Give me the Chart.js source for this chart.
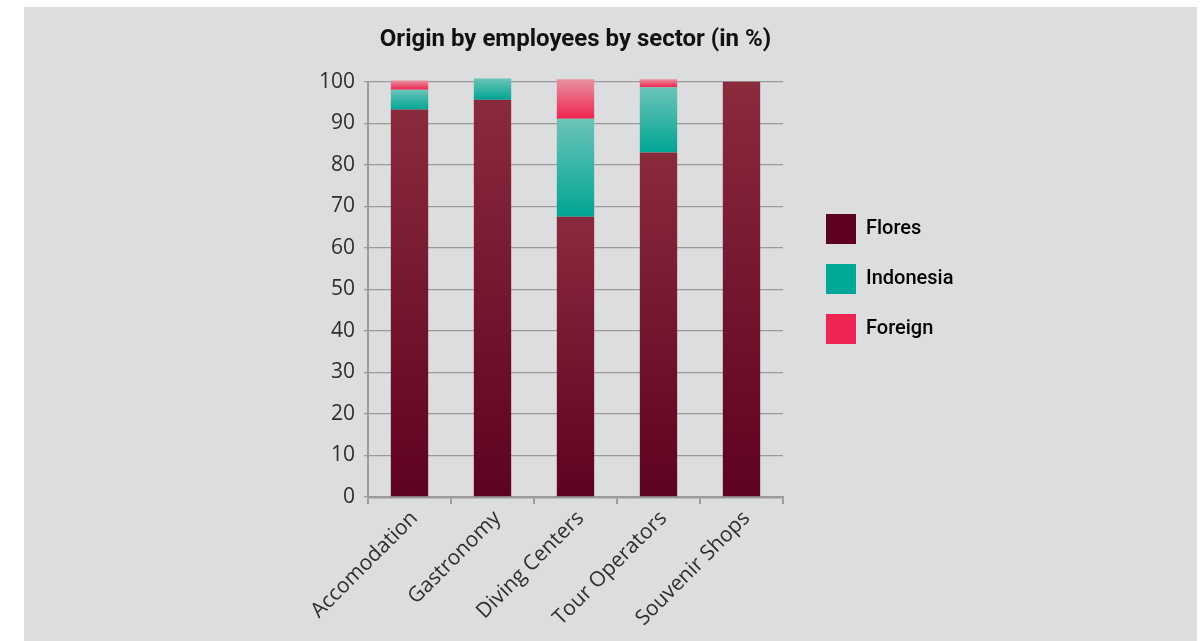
<!DOCTYPE html>
<html>
<head>
<meta charset="utf-8">
<title>Origin by employees by sector</title>
<script src="https://cdn.jsdelivr.net/npm/chart.js@4.4.1/dist/chart.umd.min.js"></script>
<style>
  html, body { margin: 0; padding: 0; background: #fff; }
  .panel { position: absolute; left: 24px; top: 7px; width: 1173px; height: 634px; background: #dcdddf; }
  .panel canvas { display: block; }
</style>
</head>
<body>
<div class="panel"><canvas id="chart-origin"></canvas></div>
<script>
// employees by origin, share per sector (%)
const sectors = ['Accomodation', 'Gastronomy', 'Diving Centers', 'Tour Operators', 'Souvenir Shops'];
const flores = [93.3, 95.7, 67.5, 83.0, 100];
const indonesia = [4.8, 5.1, 23.6, 15.7, 0];
const foreign = [2.2, 0, 9.5, 1.9, 0];
const seriesNames = ['Flores', 'Indonesia', 'Foreign'];
const yMax = 100;
const yStep = 10;

// bottom / top shade of each stacked segment, plus the flat legend swatch
const shades = [
  { bottom: '#5d0220', top: '#8a2a3d', swatch: '#5e0020' },
  { bottom: '#00a593', top: '#6cc4b8', swatch: '#00a896' },
  { bottom: '#ee2452', top: '#e9919f', swatch: '#ef2453' }
];

const LEGEND_W = 180;

// vertical gradient running from the bottom to the top of each segment
function segmentFill(idx){
  return function(ctx){
    const chart = ctx.chart;
    const y = chart.scales.y;
    if(ctx.type !== 'data' || !y || !chart.chartArea) return shades[idx].bottom;
    let start = 0;
    for(let i = 0; i < ctx.datasetIndex; i++) start += chart.data.datasets[i].data[ctx.dataIndex];
    const y0 = y.getPixelForValue(start);
    const y1 = y.getPixelForValue(start + ctx.raw);
    if(!isFinite(y0) || !isFinite(y1)) return shades[idx].bottom;
    const g = chart.ctx.createLinearGradient(0, y0, 0, y1);
    g.addColorStop(0, shades[idx].bottom);
    g.addColorStop(1, shades[idx].top);
    return g;
  };
}

// fixed legend column, pushed a bit away from the plot and raised
const legendPlacement = {
  id: 'legendPlacement',
  beforeLayout(chart){
    const legend = chart.legend;
    if(!legend || legend._fixedFit) return;
    const fit = legend.fit;
    legend.fit = function(){ fit.call(this); this.width = LEGEND_W; };
    legend._fixedFit = true;
  },
  afterLayout(chart){
    const legend = chart.legend;
    if(!legend) return;
    legend.left += 23; legend.right += 23;
    legend.top -= 45; legend.bottom -= 45;
  }
};

const values = [flores, indonesia, foreign];
const datasets = seriesNames.map((name, i) => ({
  label: name,
  data: values[i],
  backgroundColor: segmentFill(i),
  borderWidth: 0,
  clip: false,
  barPercentage: 0.45,
  categoryPercentage: 1
}));

const gridGrey = '#9b9b9b';
const tickFont = { family: '"Open Sans", sans-serif', size: 21 };

new Chart(document.getElementById('chart-origin'), {
  type: 'bar',
  data: { labels: sectors, datasets: datasets },
  options: {
    responsive: true,
    maintainAspectRatio: false,
    animation: false,
    layout: { padding: { left: 284, right: 1173 - 759 - LEGEND_W, top: 0, bottom: 0 } },
    scales: {
      x: {
        stacked: true,
        grid: { display: true, offset: true, drawOnChartArea: false, drawTicks: true, tickLength: 7, color: gridGrey, lineWidth: 2 },
        border: { display: true, color: gridGrey, width: 2.5 },
        ticks: { autoSkip: false, minRotation: 45, maxRotation: 45, labelOffset: 5, padding: 2, color: '#2e2e2e', font: tickFont },
        afterFit(scale){ scale.height = 144; }
      },
      y: {
        stacked: true,
        min: 0,
        max: yMax,
        grid: { color: gridGrey, lineWidth: 1.3, tickLength: 4 },
        border: { display: true, color: gridGrey, width: 2 },
        ticks: { stepSize: yStep, padding: 9, color: '#2e2e2e', font: tickFont },
        afterFit(scale){ scale.width = 60; }
      }
    },
    plugins: {
      title: {
        display: true,
        text: 'Origin by employees by sector (in %)',
        fullSize: false,
        color: '#111',
        font: { family: 'Roboto, sans-serif', size: 24, weight: 'bold' },
        padding: { top: 19, bottom: 27 }
      },
      legend: {
        position: 'right',
        align: 'center',
        labels: {
          boxWidth: 30,
          boxHeight: 30,
          padding: 20,
          color: '#111',
          font: { family: 'Roboto, sans-serif', size: 20, weight: '500' },
          generateLabels: chart => chart.data.datasets.map((ds, i) => ({
            text: ds.label,
            fillStyle: shades[i].swatch,
            strokeStyle: shades[i].swatch,
            lineWidth: 0,
            hidden: !chart.isDatasetVisible(i),
            datasetIndex: i
          }))
        }
      },
      tooltip: { enabled: false }
    }
  },
  plugins: [legendPlacement]
});
</script>
</body>
</html>
